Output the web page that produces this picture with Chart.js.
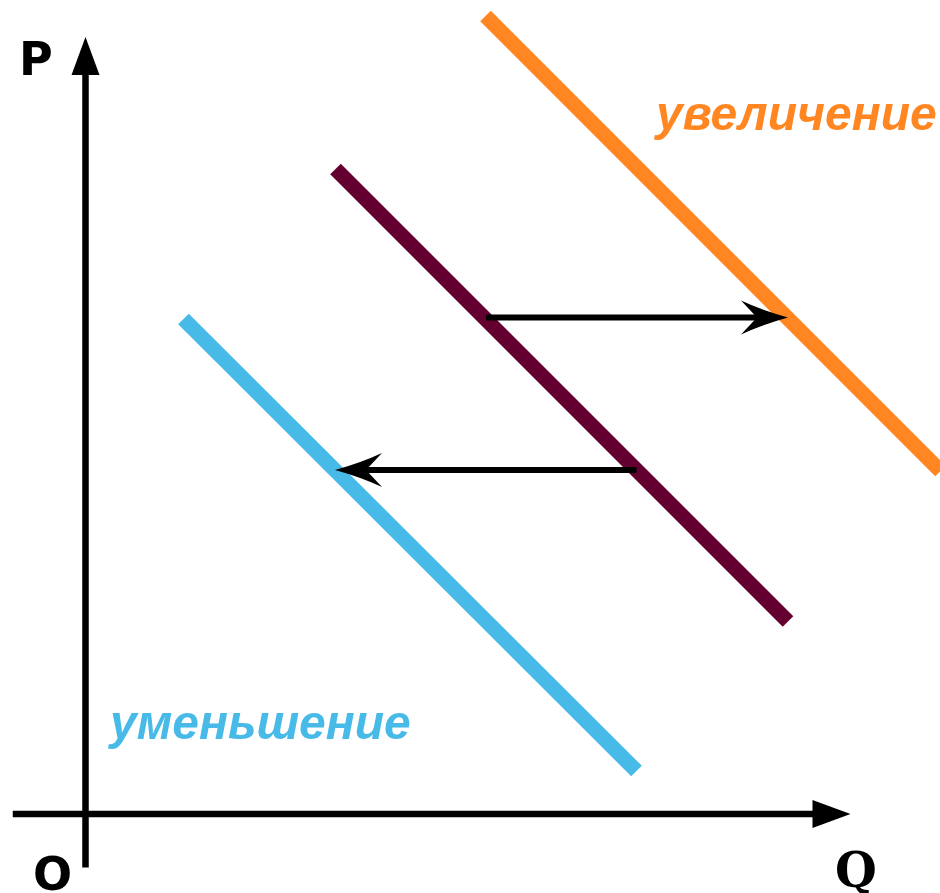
<!DOCTYPE html>
<html><head><meta charset="utf-8">
<script src="https://cdn.jsdelivr.net/npm/chart.js@4/dist/chart.umd.min.js"></script>
<style>html,body{margin:0;padding:0;background:#fff}canvas{display:block}</style>
</head><body>
<canvas id="c" width="940" height="893"></canvas>
<script>
// Values in data units: Q (quantity, horizontal) and P (price, vertical)
const baseQ = [5.0, 14.05];
const baseP = [12.9, 3.85];
const upQ = [8.0, 17.1];
const upP = [15.96, 6.86];
const downQ = [1.96, 11.02];
const downP = [9.9, 0.86];
const shiftUpQ = [8.01, 14.05];
const shiftUpP = [9.93, 9.93];
const shiftDownQ = [11.02, 4.99];
const shiftDownP = [6.88, 6.88];
const axisQ_Q = [-1.455, 15.3];
const axisQ_P = [0, 0];
const axisP_Q = [0, 0];
const axisP_P = [-1.07, 15.54];
const labelTexts = ['P', 'O', 'Q', 'увеличение', 'уменьшение'];
const labelQ = [-1.33, -1.05, 14.99, 11.41, 0.49];
const labelP = [14.78, -1.52, -1.46, 13.68, 1.5];

// styles
const labelStyles = [
  {font: 'bold 46px "DejaVu Sans"', color: '#000'},
  {font: 'bold 46px "DejaVu Sans"', color: '#000'},
  {font: 'bold 48px "DejaVu Serif"', color: '#000'},
  {font: 'italic bold 48px "Liberation Sans"', color: '#FF8620'},
  {font: 'italic bold 48px "Liberation Sans"', color: '#47BAE8'}
];

const pts = (qs, ps) => qs.map((q, i) => ({x: q, y: ps[i]}));

function line(data, color, width, arrow) {
  return {data, showLine: true, borderColor: color, backgroundColor: color,
    borderWidth: width, pointRadius: 0, pointHoverRadius: 0,
    borderCapStyle: 'butt', fill: false, tension: 0, arrow: arrow || null};
}

const datasets = [
  line(pts(axisQ_Q, axisQ_P), '#000', 6.5, 'tri'),
  line(pts(axisP_Q, axisP_P), '#000', 6.5, 'tri'),
  line(pts(shiftUpQ, shiftUpP), '#000', 6, 'stealth'),
  line(pts(shiftDownQ, shiftDownP), '#000', 6, 'stealth'),
  line(pts(upQ, upP), '#FF8620', 15),
  line(pts(baseQ, baseP), '#630030', 15),
  line(pts(downQ, downP), '#47BAE8', 15)
];

function mkPt(tip, dir) {
  const [tx, ty] = tip, [dx, dy] = dir, nx = -dy, ny = dx;
  return (a, b) => [tx + dx * a + nx * b, ty + dy * a + ny * b];
}

function addHead(ctx, tip, dir, kind) {
  const pt = mkPt(tip, dir);
  ctx.moveTo(tip[0], tip[1]);
  if (kind === 'tri') {
    const L = 38, W = 14;
    ctx.lineTo(...pt(-L, W));
    ctx.lineTo(...pt(-L, -W));
    ctx.closePath();
  } else {
    const L = 47, W = 17, N = 31;
    ctx.quadraticCurveTo(...pt(-L * 0.55, W * 0.42), ...pt(-L, W));
    ctx.lineTo(...pt(-N, 0));
    ctx.lineTo(...pt(-L, -W));
    ctx.quadraticCurveTo(...pt(-L * 0.55, -W * 0.42), tip[0], tip[1]);
    ctx.closePath();
  }
}

function addCutBand(ctx, tip, dir, kind) {
  const pt = mkPt(tip, dir);
  const back = kind === 'tri' ? 37 : 30;
  ctx.moveTo(...pt(-back, -6));
  ctx.lineTo(...pt(8, -6));
  ctx.lineTo(...pt(8, 6));
  ctx.lineTo(...pt(-back, 6));
  ctx.closePath();
}

function headGeom(chart, idx) {
  const ds = chart.data.datasets[idx];
  const xs = chart.scales.x, ys = chart.scales.y;
  const n = ds.data.length;
  const a = ds.data[n - 2], b = ds.data[n - 1];
  const x0 = xs.getPixelForValue(a.x), y0 = ys.getPixelForValue(a.y);
  const x1 = xs.getPixelForValue(b.x), y1 = ys.getPixelForValue(b.y);
  const len = Math.hypot(x1 - x0, y1 - y0);
  return {tip: [x1, y1], dir: [(x1 - x0) / len, (y1 - y0) / len], kind: ds.arrow};
}

const arrowPlugin = {
  id: 'arrows',
  beforeDatasetDraw(chart, args) {
    const ds = chart.data.datasets[args.index];
    if (!ds.arrow) return;
    const ctx = chart.ctx, g = headGeom(chart, args.index);
    ctx.save();
    ctx.beginPath();
    ctx.rect(0, 0, chart.width, chart.height);
    addCutBand(ctx, g.tip, g.dir, g.kind);
    ctx.clip('evenodd');
  },
  afterDatasetDraw(chart, args) {
    const ds = chart.data.datasets[args.index];
    if (!ds.arrow) return;
    const ctx = chart.ctx, g = headGeom(chart, args.index);
    ctx.restore();
    ctx.save();
    ctx.beginPath();
    addHead(ctx, g.tip, g.dir, g.kind);
    ctx.fillStyle = ds.borderColor;
    ctx.fill();
    ctx.restore();
  }
};

const labelPlugin = {
  id: 'labels',
  afterDraw(chart) {
    const ctx = chart.ctx, xs = chart.scales.x, ys = chart.scales.y;
    ctx.save();
    ctx.textAlign = 'left';
    ctx.textBaseline = 'alphabetic';
    labelTexts.forEach((t, i) => {
      ctx.font = labelStyles[i].font;
      ctx.fillStyle = labelStyles[i].color;
      ctx.fillText(t, xs.getPixelForValue(labelQ[i]), ys.getPixelForValue(labelP[i]));
    });
    ctx.restore();
  }
};

new Chart(document.getElementById('c'), {
  type: 'scatter',
  data: {datasets},
  options: {
    responsive: false,
    animation: false,
    devicePixelRatio: 1,
    layout: {padding: 0, autoPadding: false},
    events: [],
    plugins: {legend: {display: false}, tooltip: {enabled: false}},
    scales: {
      x: {type: 'linear', min: -1.71, max: 17.09, display: false},
      y: {type: 'linear', min: -1.58, max: 16.28, display: false}
    }
  },
  plugins: [arrowPlugin, labelPlugin]
});
</script>
</body></html>
